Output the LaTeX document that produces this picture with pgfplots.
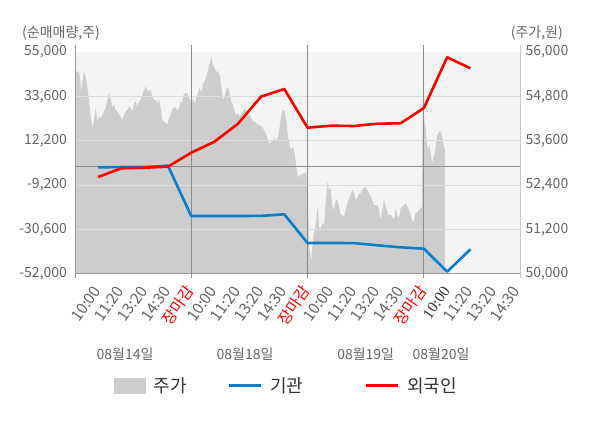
\documentclass[border=0pt]{standalone}
\usepackage{pgfplots}
\pgfplotsset{compat=1.18}
\usepackage{fontspec}
\setmainfont{Noto Sans CJK KR}
\newfontfamily\serifnum{Liberation Serif}
\definecolor{bgc}{HTML}{F4F4F4}
\definecolor{areac}{HTML}{CDCDCD}
\definecolor{gridc}{HTML}{DDDDDD}
\definecolor{axc}{HTML}{999999}
\definecolor{sepc}{HTML}{8C8C8C}
\definecolor{labc}{HTML}{666666}
\definecolor{bluec}{HTML}{0A7DCB}
\definecolor{legc}{HTML}{333333}
\definecolor{rline}{HTML}{FF0000}

% price (x = intraday chart position, y = won)
\pgfplotstableread{
x y
0 55470
3 55470
4 55330
5 54930
6.3 55160
8 55470
9.7 55330
11.3 55060
13 54700
14.7 54250
16.3 53940
18 54160
19.7 54490
21.3 54120
23 54250
24.7 54210
26.3 54300
28 54390
29.7 54490
31.3 54700
33 54880
34.7 54750
36.3 54490
38 54570
39.7 54430
41.3 54390
43 54340
44.7 54250
46.3 54160
48 54300
49.7 54390
51.3 54430
53 54520
54.7 54490
56.3 54390
58 54610
59.7 54660
61.3 54520
63 54660
64.7 54700
66.3 54840
68 54970
69.7 55060
71.3 54970
73 54930
74.7 54970
76.3 54790
78 54700
79.7 54700
81.3 54610
83 54700
84.7 54490
86.3 54160
88 54120
89.7 54070
91.3 54030
93 54210
94.7 54300
96.3 54430
98 54520
99.7 54490
101.3 54430
103 54490
104.7 54660
106.3 54660
108 54880
111.3 54880
113 54750
114.5 54700
115.3 54520
117 54750
118.7 54570
120.3 54790
122 54880
123.7 55060
125.3 54880
127 55150
128.7 55200
130.3 55330
132 55510
133.7 55690
135.3 55870
137 55650
138.7 55560
140.3 55470
142 55470
143.7 55380
145.3 55060
147 54700
148.7 54790
150.3 54970
152 55060
153.7 54880
155.3 54660
157 54570
158.7 54390
160.3 54300
162 54340
163.7 54250
165.3 54340
167 54390
168.7 54480
170.3 54390
172 54340
173.7 54300
175.3 54210
177 54120
178.7 54120
180.3 54070
182 54030
183.7 54030
185.3 53980
187 53940
188.7 53850
190.3 53760
192 53620
193.7 53530
195.3 53580
197 53620
198.7 53670
200.3 53580
202 53710
203.7 53980
205.3 54300
207 54430
208.7 54390
210.3 54160
212 53710
213.7 53440
215.3 53350
217 53440
218.7 53260
220.3 52900
222 52590
223.7 52680
225.3 52680
227 52720
228.7 52720
230.3 52760
231.3 51780
232.3 51730
233 50740
234.7 50470
235.3 50330
236.3 50740
238 51100
239.7 51370
241.3 51730
242 51780
243 51280
244.7 51230
246.3 51370
248 51320
249.7 51910
251.3 52490
253 52270
254.7 52320
256.3 51820
258 51730
259.7 52000
261.3 52000
263 51820
264.7 51590
266.3 51590
268 51550
269.7 51730
271.3 51910
273 52050
274.7 52140
276.3 52270
278 52180
279.7 52000
281.3 52050
283 52180
284.7 52180
286.3 52270
288 52320
289.7 52360
291.3 52270
293 52180
294.7 52090
296.3 52000
298 51860
299.7 51860
301.3 51860
303 51730
304.7 51460
306.3 51730
308 52000
309.7 51820
311.3 51680
313 51590
314.7 51590
316.3 51550
318 51460
319.7 51780
321.3 51590
323 51500
324.7 51780
326.3 51820
328 51860
329.7 51910
331.3 51820
333 51730
334.7 51590
336.3 51410
338 51460
339.7 51680
341.3 51640
343 51730
344.7 51780
346 51820
346.8 54750
347.3 54520
348.7 54070
349.7 53940
350.7 53530
352 53350
353.3 53490
354.7 53260
356 52990
357.3 53130
358.7 53260
360 53530
361.3 53760
363 53850
364.7 53850
366.3 53710
368 53400
369 53400
}\price

\pgfplotstableread{
x y
1 -600
2 -450
3 -450
4 200
5 -24050
6 -24050
7 -24050
8 -24000
9 -23230
10 -37060
11 -37060
12 -37100
13 -38170
14 -39140
15 -39810
16 -50900
17 -40100
}\inst

\pgfplotstableread{
x y
1 -5250
2 -1050
3 -770
4 -280
5 6460
6 11770
7 20300
8 33460
9 37170
10 18510
11 19480
12 19330
13 20440
14 20640
15 28010
16 52450
17 47140
}\foreign

\begin{document}
\begin{tikzpicture}
\path[use as bounding box] (0,0) rectangle (600pt,428pt);

% price axis (right)
\begin{axis}[
  at={(76pt,154pt)}, anchor=south west,
  width=444pt, height=222pt, scale only axis,
  xmin=0, xmax=444, ymin=50000, ymax=56000,
  scaled y ticks=false,
  axis background/.style={fill=bgc},
  hide x axis,
  axis line style={draw=none},
  ytick={50000,51200,52400,53600,54800,56000},
  yticklabels={{50,000},{51,200},{52,400},{53,600},{54,800},{56,000}},
  ytick pos=right, yticklabel pos=right,
  major tick length=0pt,
  yticklabel style={font=\fontsize{14}{16}\selectfont, text=labc, xshift=2pt},
]
\addplot[fill=areac, draw=none] table[x=x,y=y] {\price} \closedcycle;
\end{axis}

% net buying axis (left)
\begin{axis}[
  at={(76pt,154pt)}, anchor=south west,
  width=444pt, height=222pt, scale only axis,
  xmin=0.05, xmax=19.13, ymin=-52000, ymax=55000,
  scaled y ticks=false, scaled x ticks=false,
  clip=false,
  axis line style={draw=none},
  xtick={1,...,19},
  xticklabels={10:00,11:20,13:20,14:30,\textcolor{rline}{장마감},10:00,11:20,13:20,14:30,\textcolor{rline}{장마감},10:00,11:20,13:20,14:30,\textcolor{rline}{장마감},{\textcolor{legc}{\serifnum 10:00}},11:20,13:20,14:30},
  xticklabel style={xshift=3.5pt, yshift=-17pt, rotate=55, anchor=base east, inner sep=0pt, font=\fontsize{15.5}{17}\selectfont, text=labc},
  ytick={-52000,-30600,-9200,12200,33600,55000},
  yticklabels={{-52,000},{-30,600},{-9,200},{12,200},{33,600},{55,000}},
  yticklabel style={font=\fontsize{14}{16}\selectfont, text=labc, xshift=-5.5pt},
  ytick pos=left, xtick pos=bottom,
  major tick length=0pt,
  legend columns=3,
  legend style={at={(axis description cs:0.0856,-0.503)}, anchor=west,
    draw=none, fill=none, inner sep=0pt,
    font=\fontsize{18}{20}\selectfont, text=legc,
    nodes={inner sep=0pt},
    /tikz/every odd column/.append style={column sep=8pt},
    /tikz/column 2/.style={column sep=41pt},
    /tikz/column 4/.style={column sep=61pt}},
]
% grid lines
\addplot[gridc, line width=1pt, forget plot] coordinates {(0.05,33600) (19.13,33600)};
\addplot[gridc, line width=1pt, forget plot] coordinates {(0.05,12200) (19.13,12200)};
\addplot[gridc, line width=1pt, forget plot] coordinates {(0.05,-9200) (19.13,-9200)};
\addplot[gridc, line width=1pt, forget plot] coordinates {(0.05,-30600) (19.13,-30600)};
% zero line
\addplot[sepc, line width=1pt, forget plot] coordinates {(0.05,0) (19.13,0)};
% axis frame and day separators
\addplot[axc, line width=1pt, forget plot] coordinates {(0.05,-52000) (19.13,-52000)};
\addplot[axc, line width=1pt, forget plot] coordinates {(0.05,-53900) (0.05,58400)};
\addplot[sepc, line width=1pt, forget plot] coordinates {(5,-53900) (5,58400)};
\addplot[sepc, line width=1pt, forget plot] coordinates {(10,-53900) (10,58400)};
\addplot[sepc, line width=1pt, forget plot] coordinates {(15,-53900) (15,58400)};
\addplot[color={rgb,255:red,204;green,204;blue,204}, line width=1pt, forget plot] coordinates {(19.13,-53900) (19.13,58400)};

\addlegendimage{legend image code/.code={\fill[areac] (0pt,-7.2pt) rectangle (31pt,7.2pt);}}
\addlegendentry{주가}
\addplot[bluec, line width=2.6pt, line join=round,
  legend image code/.code={\draw[bluec, line width=2.7pt] (0pt,0pt) -- (32pt,0pt);}]
  table[x=x,y=y] {\inst};
\addlegendentry{기관}
\addplot[rline, line width=2.6pt, line join=round,
  legend image code/.code={\draw[rline, line width=2.7pt] (0pt,0pt) -- (32pt,0pt);}]
  table[x=x,y=y] {\foreign};
\addlegendentry{외국인}
\end{axis}

\node[anchor=west, text=labc, font=\fontsize{14}{16}\selectfont, inner sep=0pt] at (22pt,394.5pt) {(순매매량,주)};
\node[anchor=east, text=labc, font=\fontsize{14}{16}\selectfont, inner sep=0pt] at (563pt,394.5pt) {(주가,원)};

\foreach \xx/\tt in {125/08월14일, 245/08월18일, 365.7/08월19일, 441/08월20일}
  \node[text=labc, font=\fontsize{14}{15}\selectfont, inner sep=0pt] at (\xx pt,74pt) {\tt};
\end{tikzpicture}
\end{document}
